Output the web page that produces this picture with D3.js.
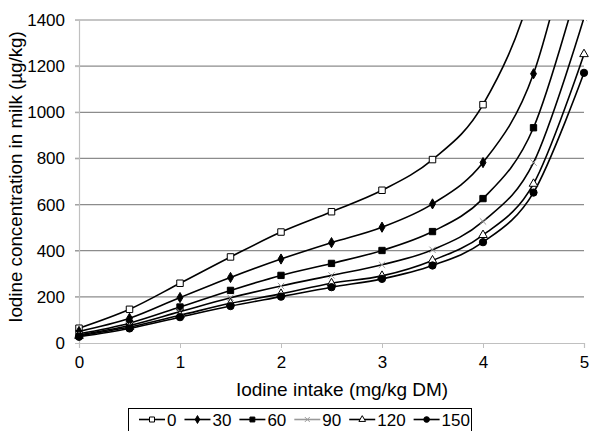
<!DOCTYPE html>
<html>
<head>
<meta charset="utf-8">
<script src="https://cdn.jsdelivr.net/npm/d3@7"></script>
<style>
  body { margin: 0; background: #fff; }
  text { font-family: "Liberation Sans", Arial, sans-serif; fill: #000; }
</style>
</head>
<body>
<div id="chart"></div>
<script>
// Iodine intake (mg/kg DM)
const intake = [0, 0.5, 1, 1.5, 2, 2.5, 3, 3.5, 4, 4.5, 5];
// milk iodine (µg/kg) per series, values above 1400 fall off the top
const s0   = [64, 146, 259, 373, 481, 569, 662, 795, 1033, 1560, 2600];
const s30  = [50, 107, 197, 284, 364, 435, 502, 603, 782, 1167, 2000];
const s60  = [40, 86, 156, 228, 293, 345, 401, 483, 626, 933, 1640];
const s90  = [35, 76, 136, 196, 247, 293, 339, 404, 527, 782, 1410];
const s120 = [31, 69, 120, 172, 213, 259, 291, 358, 468, 690, 1252];
const s150 = [27, 63, 112, 160, 201, 242, 278, 336, 437, 652, 1171];
const seriesNames = ["0", "30", "60", "90", "120", "150"];
const yTicks = [0, 200, 400, 600, 800, 1000, 1200, 1400];
const xTicks = [0, 1, 2, 3, 4, 5];

const allSeries = [s0, s30, s60, s90, s120, s150];

const width = 590, height = 431;
const margin = { top: 20, right: 6, bottom: 88, left: 79 };
const w = width - margin.left - margin.right;
const h = height - margin.top - margin.bottom;

const svg = d3.select("#chart").append("svg")
  .attr("width", width)
  .attr("height", height);

const g = svg.append("g")
  .attr("transform", `translate(${margin.left},${margin.top})`);

const x = d3.scaleLinear().domain([0, 5]).range([0, w]);
const y = d3.scaleLinear().domain([0, 1400]).range([h, 0]);

// gridlines
g.append("g")
  .selectAll("line")
  .data(yTicks.slice(1))
  .enter().append("line")
  .attr("x1", -4).attr("x2", w)
  .attr("y1", d => y(d)).attr("y2", d => y(d))
  .attr("stroke", "#8c8c8c")
  .attr("stroke-width", 1.2);

// y axis
const yAxis = g.append("g")
  .call(d3.axisLeft(y).tickValues(yTicks).tickSize(4).tickPadding(10).tickFormat(d3.format("d")));
yAxis.select(".domain").attr("stroke", "#c0c0c0").attr("stroke-width", 1.2);
yAxis.selectAll(".tick line").attr("stroke", "#c0c0c0");
yAxis.selectAll("text").attr("font-size", 17).attr("fill", "#000");

// x axis
const xAxis = g.append("g")
  .attr("transform", `translate(0,${h})`)
  .call(d3.axisBottom(x).tickValues(xTicks).tickSize(5).tickPadding(8).tickFormat(d3.format("d")));
xAxis.select(".domain").attr("stroke", "#c0c0c0").attr("stroke-width", 1.2);
xAxis.selectAll(".tick line").attr("stroke", "#c0c0c0");
xAxis.selectAll("text").attr("font-size", 17).attr("fill", "#000");

// axis titles
svg.append("text")
  .attr("transform", "translate(21.5,177) rotate(-90)")
  .attr("text-anchor", "middle")
  .attr("font-size", 18.8)
  .text("Iodine concentration in milk (µg/kg)");

svg.append("text")
  .attr("x", 342)
  .attr("y", 396)
  .attr("text-anchor", "middle")
  .attr("font-size", 19)
  .text("Iodine intake (mg/kg DM)");

// clip off the top of the plot
svg.append("defs").append("clipPath").attr("id", "clip")
  .append("rect")
  .attr("x", -12).attr("y", 0)
  .attr("width", w + 24).attr("height", h + 12);

// marker drawing
const timesSym = {
  draw(ctx, size) {
    const r = Math.sqrt(size) / 2;
    ctx.moveTo(-r, -r); ctx.lineTo(r, r);
    ctx.moveTo(r, -r); ctx.lineTo(-r, r);
  }
};
const markerStyle = [
  { type: d3.symbolSquare, size: 42, fill: "#fff", stroke: "#000" },
  { type: d3.symbolDiamond, size: 30, fill: "#000", stroke: "#000" },
  { type: d3.symbolSquare, size: 40, fill: "#000", stroke: "#000" },
  { type: timesSym, size: 40, fill: "none", stroke: "#999" },
  { type: d3.symbolTriangle, size: 32, fill: "#fff", stroke: "#000" },
  { type: d3.symbolCircle, size: 42, fill: "#000", stroke: "#000" }
];

const line = d3.line()
  .x((d, i) => x(intake[i]))
  .y(d => y(d))
  .curve(d3.curveCardinal.tension(0));

const plot = g.append("g").attr("clip-path", "url(#clip)");

allSeries.forEach((vals, k) => {
  plot.append("path")
    .attr("d", line(vals))
    .attr("fill", "none")
    .attr("stroke", "#000")
    .attr("stroke-width", 1.6);
});

allSeries.forEach((vals, k) => {
  const m = markerStyle[k];
  plot.append("g").selectAll("path")
    .data(vals)
    .enter().append("path")
    .attr("transform", (d, i) => `translate(${x(intake[i])},${y(d)})`)
    .attr("d", d3.symbol().type(m.type).size(m.size))
    .attr("fill", m.fill)
    .attr("stroke", m.stroke)
    .attr("stroke-width", 1);
});

// legend
const legend = svg.append("g");
legend.append("rect")
  .attr("x", 128.5).attr("y", 408.5)
  .attr("width", 343).attr("height", 30)
  .attr("fill", "#fff")
  .attr("stroke", "#000")
  .attr("stroke-width", 1);

let lx = 139;
seriesNames.forEach((name, k) => {
  const m = markerStyle[k];
  const item = legend.append("g");
  item.append("line")
    .attr("x1", lx).attr("x2", lx + 26)
    .attr("y1", 419.5).attr("y2", 419.5)
    .attr("stroke", k === 3 ? "#999" : "#000")
    .attr("stroke-width", 1.6);
  item.append("path")
    .attr("transform", `translate(${lx + 13},419.5)`)
    .attr("d", d3.symbol().type(m.type).size(m.size * 0.6))
    .attr("fill", m.fill)
    .attr("stroke", m.stroke)
    .attr("stroke-width", 1);
  const t = item.append("text")
    .attr("x", lx + 28)
    .attr("y", 425.5)
    .attr("font-size", 17)
    .text(name);
  lx += 28 + t.node().getComputedTextLength() + 8;
});
</script>
</body>
</html>
